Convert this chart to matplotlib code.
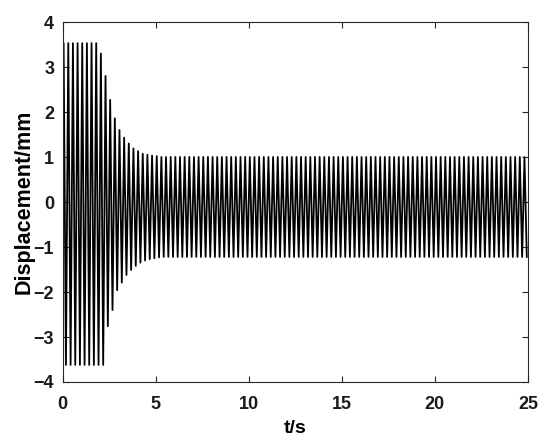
import numpy as np
import matplotlib
matplotlib.use("Agg")
import matplotlib.pyplot as plt

# ---- data ----
period = 0.25
first_peak = 0.06
start_point = (0.0, -1.9)
peak_vals = [3.53] * 8 + [3.30, 2.80, 2.27, 1.86, 1.60, 1.43, 1.30, 1.19, 1.13,
                          1.07, 1.05, 1.03, 1.02] + [1.00] * 79
trough_vals = [-3.62] * 9 + [-2.76, -2.40, -1.96, -1.79, -1.62, -1.51, -1.42,
                             -1.35, -1.30, -1.27, -1.25, -1.23] + [-1.22] * 79
xticks = [0, 5, 10, 15, 20, 25]
yticks = [-4, -3, -2, -1, 0, 1, 2, 3, 4]

n = len(peak_vals)
peak_t = first_peak + period * np.arange(n)
trough_t = peak_t + period / 2

t = np.empty(2 * n + 1)
y = np.empty(2 * n + 1)
t[0], y[0] = start_point
t[1::2] = peak_t
t[2::2] = trough_t
y[1::2] = peak_vals
y[2::2] = trough_vals

plt.rcParams['font.family'] = ['Liberation Sans', 'DejaVu Sans']
plt.rcParams['font.weight'] = 'bold'

fig = plt.figure(figsize=(5.5, 4.47), dpi=100)
ax = fig.add_axes([62.5 / 550, 1 - 382 / 447, (528 - 62.5) / 550, (382 - 22) / 447])
ax.plot(t, y, color='black', lw=1.3)
ax.set_xlim(0, 25)
ax.set_ylim(-4, 4)
ax.set_xticks(xticks)
ax.set_yticks(yticks)
ax.tick_params(direction='in', length=4, width=0.8, top=True, right=True,
               labelsize=13, colors='#262626')
ax.tick_params(axis='x', pad=10)
ax.tick_params(axis='y', pad=6)
for lab in ax.get_xticklabels() + ax.get_yticklabels():
    lab.set_fontweight('bold')
    lab.set_color('#1a1a1a')
for s in ax.spines.values():
    s.set_linewidth(0.8)
    s.set_color('#262626')
ax.set_xlabel('t/s', fontsize=14, fontweight='bold', labelpad=5)
ax.set_ylabel('Displacement/mm', fontsize=15.5, fontweight='bold', labelpad=-1)

fig.savefig('out.png', dpi=100)
